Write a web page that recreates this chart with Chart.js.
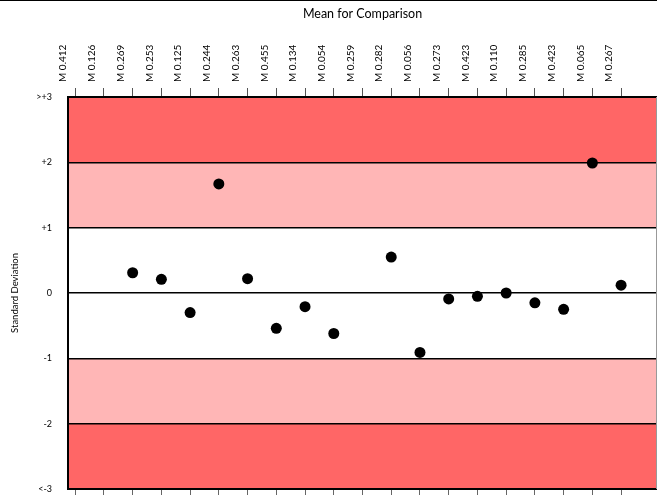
<!DOCTYPE html>
<html>
<head>
<meta charset="utf-8">
<script src="https://cdn.jsdelivr.net/npm/chart.js@4.4.1/dist/chart.umd.min.js"></script>
<style>
    html, body { margin: 0; padding: 0; background: #fff; overflow: hidden; }
    #canvas-holder { width: 657px; height: 495px; border-top: 1px solid #000; box-sizing: border-box; }
</style>
</head>
<body>
<div id="canvas-holder"><canvas id="chart-area"></canvas></div>

<script>
    // comparison means along the top axis
    var meanLabels = ['M 0.412', 'M 0.126', 'M 0.269', 'M 0.253', 'M 0.125', 'M 0.244', 'M 0.263',
        'M 0.455', 'M 0.134', 'M 0.054', 'M 0.259', 'M 0.282', 'M 0.056', 'M 0.273', 'M 0.423',
        'M 0.110', 'M 0.285', 'M 0.423', 'M 0.065', 'M 0.267'];

    // which column each result sits in, and its standard deviation
    var resultColumn = [2, 3, 4, 5, 6, 7, 8, 9, 11, 12, 13, 14, 15, 16, 17, 18, 19];
    var sdValues = [0.31, 0.21, -0.30, 1.67, 0.22, -0.54, -0.21, -0.62, 0.55, -0.91, -0.09, -0.05, 0.0, -0.15, -0.25, 1.99, 0.12];

    var sdTicks = [-3, -2, -1, 0, 1, 2, 3];
    var sdTickLabels = ['<-3', '-2', '-1', '0', '+1', '+2', '>+3'];

    // shaded bands
    var bandFrom = [-3, -2, 1, 2];
    var bandTo = [-2, -1, 2, 3];
    var bandColor = ['#ff6666', '#ffb6b6', '#ffb6b6', '#ff6666'];

    var fontName = 'Lato, "Open Sans", sans-serif';

    var bandsPlugin = {
        id: 'bands',
        beforeDraw: function(chart) {
            var ctx = chart.ctx, a = chart.chartArea, y = chart.scales.y;
            ctx.save();
            for (var i = 0; i < bandFrom.length; i++) {
                var top = y.getPixelForValue(bandTo[i]);
                var bot = y.getPixelForValue(bandFrom[i]);
                ctx.fillStyle = bandColor[i];
                ctx.fillRect(a.left, top, a.right - a.left, bot - top);
            }
            ctx.restore();
        },
        afterDraw: function(chart) {
            var ctx = chart.ctx, a = chart.chartArea;
            ctx.save();
            ctx.strokeStyle = '#999';
            ctx.lineWidth = 1;
            ctx.beginPath();
            ctx.moveTo(a.right - 0.5, a.top);
            ctx.lineTo(a.right - 0.5, a.bottom);
            ctx.stroke();
            ctx.restore();
        }
    };

    var columnTicks = function(scale) {
        scale.ticks = meanLabels.map(function(l, i) { return { value: i }; });
    };
    var noPadding = function(s) {
        s.paddingLeft = 0; s.paddingRight = 0; s.paddingTop = 0; s.paddingBottom = 0;
    };

    var config = {
        type: 'scatter',
        data: {
            datasets: [{
                data: resultColumn.map(function(c, i) { return { x: c, y: sdValues[i] }; }),
                backgroundColor: '#000',
                borderColor: '#000',
                borderWidth: 0,
                pointRadius: 5.5,
                pointHoverRadius: 5.5
            }]
        },
        plugins: [bandsPlugin],
        options: {
            responsive: true,
            maintainAspectRatio: false,
            animation: false,
            layout: { padding: 0, autoPadding: false },
            plugins: { legend: { display: false }, tooltip: { enabled: false } },
            scales: {
                x: {
                    type: 'linear', position: 'bottom',
                    min: -0.25, max: meanLabels.length + 0.25,
                    afterBuildTicks: columnTicks,
                    afterFit: function(s) { s.height = 6; noPadding(s); },
                    ticks: { display: false },
                    grid: { drawOnChartArea: false, drawTicks: true, tickLength: 8, color: '#666', lineWidth: 1 },
                    border: { color: '#000', width: 2 }
                },
                x2: {
                    type: 'linear', position: 'top',
                    min: -0.25, max: meanLabels.length + 0.25,
                    afterBuildTicks: columnTicks,
                    afterFit: function(s) { s.height = 96; noPadding(s); },
                    ticks: {
                        minRotation: 90, maxRotation: 90, autoSkip: false,
                        padding: 6, color: '#000',
                        font: { family: fontName, size: 10 },
                        callback: function(v) { return meanLabels[v]; }
                    },
                    grid: { drawOnChartArea: false, drawTicks: true, tickLength: 9, color: '#555', lineWidth: 1 },
                    border: { color: '#000', width: 2 },
                    title: {
                        display: true, text: 'Mean for Comparison', color: '#000',
                        font: { family: fontName, size: 12.5 },
                        padding: { top: 5, bottom: 0 }
                    }
                },
                y: {
                    min: -3, max: 3,
                    afterBuildTicks: function(s) { s.ticks = sdTicks.map(function(v) { return { value: v }; }); },
                    afterFit: function(s) { s.width = 68; noPadding(s); },
                    ticks: {
                        padding: 16, color: '#000',
                        font: { family: fontName, size: 9 },
                        callback: function(v) { return sdTickLabels[sdTicks.indexOf(v)]; }
                    },
                    grid: { drawTicks: false, color: '#000', lineWidth: 1.5 },
                    border: { color: '#000', width: 2 },
                    title: {
                        display: true, text: 'Standard Deviation', color: '#000',
                        font: { family: fontName, size: 9.5 },
                        padding: { top: 9, bottom: 0 }
                    }
                }
            }
        }
    };

    var ctx = document.getElementById('chart-area').getContext('2d');
    window.myScatter = new Chart(ctx, config);
</script>
</body>
</html>
